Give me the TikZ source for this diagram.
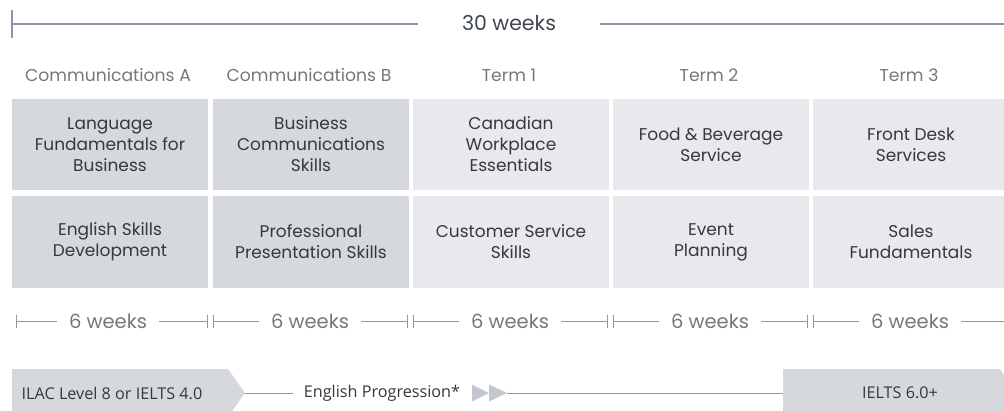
\documentclass[tikz,border=0pt]{standalone}
\usepackage{fontspec}
\setmainfont{Poppins}
\newfontfamily\barfont{Open Sans}
\definecolor{darkbox}{HTML}{D5D9DE}
\definecolor{lightbox}{HTML}{E7E9EC}
\definecolor{rule}{HTML}{8C95A5}
\definecolor{headtxt}{HTML}{777777}
\definecolor{boxtxt}{HTML}{383838}
\definecolor{toptxt}{HTML}{404650}
\definecolor{tri}{HTML}{C3C8CF}
\tikzset{
  course/.style={minimum width=196pt, inner sep=0pt, align=center, text=boxtxt, font=\fontsize{17}{21}\selectfont},
  dk/.style={course, fill=darkbox},
  lt/.style={course, fill=lightbox},
  head/.style={text=headtxt, font=\fontsize{17.2}{20}\selectfont, inner sep=0pt},
  wk/.style={text=headtxt, font=\fontsize{19.5}{22}\selectfont, fill=white, inner sep=0pt, minimum width=102pt, minimum height=18pt},
  thinrule/.style={draw=rule, line width=0.9pt},
  thickrule/.style={draw=rule, line width=2pt},
  bartxt/.style={text=boxtxt, font=\barfont\fontsize{16.2}{19}\selectfont, inner sep=0pt},
}
\begin{document}
\begin{tikzpicture}[x=1pt,y=-1pt]
\useasboundingbox (0,0) rectangle (1004,410);
\clip (0,0) rectangle (1004,410);
% top bar
\coordinate (tl) at (12,24);
\coordinate (tr) at (1004,24);
\draw[thickrule] (12,10) -- (12,38);
\draw[thickrule] (tl) -- (tr);
\node[text=toptxt, fill=white, inner sep=0pt, minimum width=182pt, minimum height=22pt, font=\fontsize{20.5}{23}\selectfont] (total) at (509,23) {30 weeks};
% headers
\node[head] (h1) at (108,75) {Communications A};
\node[head] (h2) at (309,75) {Communications B};
\node[head] (h3) at (509,75) {Term 1};
\node[head] (h4) at (709,75) {Term 2};
\node[head] (h5) at (909,75) {Term 3};
% row 1
\node[dk, minimum height=91pt] (a1) at (110,144.5) {Language\\Fundamentals for\\Business};
\node[dk, minimum height=91pt] (b1) at (311,144.5) {Business\\Communications\\Skills};
\node[lt, minimum height=91pt] (c1) at (511,144.5) {Canadian\\Workplace\\Essentials};
\node[lt, minimum height=91pt] (d1) at (711,144.5) {Food \& Beverage\\Service};
\node[lt, minimum height=91pt] (e1) at (911,144.5) {Front Desk\\Services};
% row 2
\node[dk, minimum height=92pt] (a2) at (110,242) {English Skills\\Development};
\node[dk, minimum height=92pt] (b2) at (311,242) {Professional\\Presentation Skills};
\node[lt, minimum height=92pt] (c2) at (511,242) {Customer Service\\Skills};
\node[lt, minimum height=92pt] (d2) at (711,242) {Event\\Planning};
\node[lt, minimum height=92pt] (e2) at (911,242) {Sales\\Fundamentals};
% week segments
\foreach \n/\L/\R in {1/16/207, 2/213/407, 3/413/607, 4/613/807} {
  \coordinate (wl\n) at (\L,321);
  \coordinate (wr\n) at (\R,321);
  \draw[thinrule] (\L,314.5) -- (\L,327.5);
  \draw[thinrule] (\R,314.5) -- (\R,327.5);
  \draw[thinrule] (wl\n) -- (wr\n);
}
\coordinate (wl5) at (813,321);
\coordinate (wr5) at (1004,321);
\draw[thinrule] (813,314.5) -- (813,327.5);
\draw[thinrule] (wl5) -- (wr5);
\node[wk] (w1) at (108,321) {6 weeks};
\node[wk] (w2) at (310,321) {6 weeks};
\node[wk] (w3) at (510,321) {6 weeks};
\node[wk] (w4) at (710,321) {6 weeks};
\node[wk] (w5) at (910,321) {6 weeks};
% bottom bar
\fill[darkbox] (12,369) -- (228,369) -- (245,393) -- (228,417) -- (12,417) -- cycle;
\coordinate (ptip) at (245,393);
\node[bartxt] (start) at (112,393) {ILAC Level 8 or IELTS 4.0};
\fill[darkbox] (783,369) -- (1000,369) -- (1017,393) -- (1000,417) -- (783,417) -- cycle;
\coordinate (pend) at (783,393);
\node[bartxt] (goal) at (900,393) {IELTS 6.0+};
\node[bartxt, fill=white, inner xsep=11pt, minimum height=16pt] (prog) at (382,393) {English Progression*};
\coordinate (t1) at (472,384.5);
\coordinate (t2) at (472,401.5);
\coordinate (t3) at (489,393);
\coordinate (t4) at (489,384.5);
\coordinate (t5) at (489,401.5);
\coordinate (t6) at (507,393);
\draw[thinrule] (ptip) -- (prog.west);
\draw[thinrule] (t6) -- (pend);
\fill[tri] (t1) -- (t3) -- (t2) -- cycle;
\fill[tri] (t4) -- (t6) -- (t5) -- cycle;
\end{tikzpicture}
\end{document}
